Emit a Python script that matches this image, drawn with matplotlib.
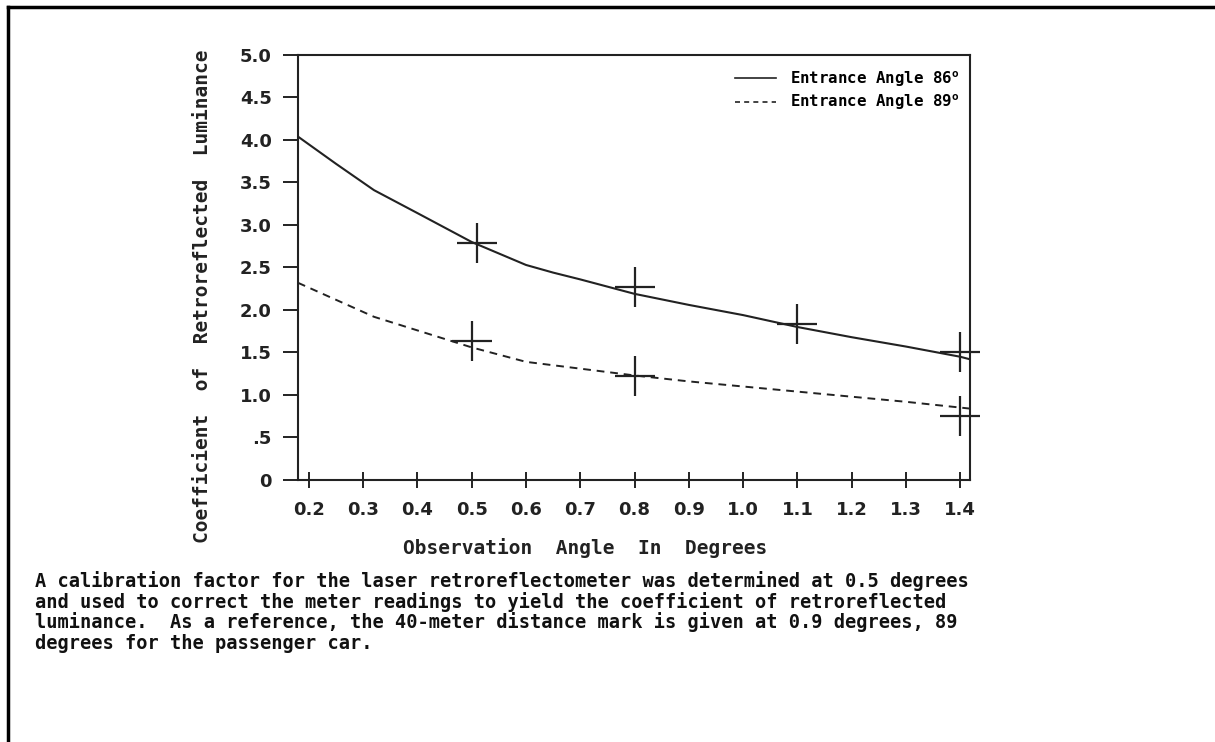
import matplotlib
matplotlib.use('Agg')
import matplotlib.pyplot as plt
from matplotlib.lines import Line2D

# curves
x86 = [0.18, 0.25, 0.32, 0.40, 0.50, 0.60, 0.65, 0.70, 0.80, 0.90, 1.00, 1.10, 1.20, 1.30, 1.40, 1.418]
y86 = [4.04, 3.72, 3.41, 3.14, 2.80, 2.53, 2.44, 2.36, 2.19, 2.06, 1.94, 1.80, 1.68, 1.57, 1.45, 1.42]
x89 = [0.18, 0.25, 0.32, 0.40, 0.50, 0.60, 0.70, 0.80, 0.90, 1.00, 1.10, 1.20, 1.30, 1.418]
y89 = [2.32, 2.12, 1.92, 1.76, 1.56, 1.39, 1.31, 1.23, 1.16, 1.10, 1.04, 0.98, 0.92, 0.84]

# measured points (plus signs)
px86 = [0.51, 0.80, 1.10, 1.40]
py86 = [2.79, 2.27, 1.83, 1.50]
px89 = [0.50, 0.80, 1.40]
py89 = [1.63, 1.22, 0.75]

xticks = [0.2, 0.3, 0.4, 0.5, 0.6, 0.7, 0.8, 0.9, 1.0, 1.1, 1.2, 1.3, 1.4]
xticklabels = ['0.2', '0.3', '0.4', '0.5', '0.6', '0.7', '0.8', '0.9', '1.0', '1.1', '1.2', '1.3', '1.4']
yticks = [0, 0.5, 1.0, 1.5, 2.0, 2.5, 3.0, 3.5, 4.0, 4.5, 5.0]
yticklabels = ['0', '.5', '1.0', '1.5', '2.0', '2.5', '3.0', '3.5', '4.0', '4.5', '5.0']

caption = ['A calibration factor for the laser retroreflectometer was determined at 0.5 degrees',
           'and used to correct the meter readings to yield the coefficient of retroreflected',
           'luminance.  As a reference, the 40-meter distance mark is given at 0.9 degrees, 89',
           'degrees for the passenger car.']

plt.rcParams['font.family'] = ['DejaVu Sans']
plt.rcParams['font.weight'] = 'bold'
mono = 'DejaVu Sans Mono'

W, H = 1215, 742
fig = plt.figure(figsize=(W / 100, H / 100), dpi=100)
ax = fig.add_axes([298 / W, 1 - 480 / H, (970 - 298) / W, (480 - 55) / H])

ink = '#222222'
ax.plot(x86, y86, color=ink, lw=1.5)
ax.plot(x89, y89, color=ink, lw=1.4, ls=(0, (4, 3)))
ax.plot(px86, py86, ls='none', marker='+', ms=29, mew=1.6, color=ink, clip_on=False)
ax.plot(px89, py89, ls='none', marker='+', ms=29, mew=1.6, color=ink, clip_on=False)

ax.set_xlim(0.18, 1.418)
ax.set_ylim(0, 5.0)
ax.set_xticks(xticks)
ax.set_xticklabels(xticklabels)
ax.set_yticks(yticks)
ax.set_yticklabels(yticklabels)
ax.tick_params(axis='y', direction='out', length=11, width=1.4, pad=8, labelsize=13, colors=ink)
ax.tick_params(axis='x', direction='inout', length=12, width=1.4, pad=9, labelsize=13, colors=ink)
for s in ax.spines.values():
    s.set_linewidth(1.5)
    s.set_color(ink)

handles = [Line2D([], [], color=ink, lw=1.2),
           Line2D([], [], color=ink, lw=1.2, ls=(0, (3, 2.5)))]
ax.legend(handles, ['Entrance Angle 86$^{\\mathregular{o}}$', 'Entrance Angle 89$^{\\mathregular{o}}$'],
          loc='upper right', bbox_to_anchor=(1.005, 1.0), frameon=False,
          handlelength=2.6, handletextpad=0.9, labelspacing=0.25,
          prop={'size': 11.3, 'weight': 'bold', 'family': mono})

fig.text(203 / W, 1 - 296 / H, 'Coefficient  of  Retroreflected  Luminance', rotation=90,
         ha='center', va='center', fontsize=14, color=ink, family=mono)
fig.text(585 / W, 1 - 548 / H, 'Observation  Angle  In  Degrees',
         ha='center', va='center', fontsize=14, color=ink, family=mono)

for i, line in enumerate(caption):
    fig.text(35 / W, 1 - (581 + 20.7 * i) / H, line, ha='left', va='center',
             fontsize=13.45, color='#111111', family=mono)

# page frame
fig.add_artist(Line2D([8 / W, 1.0], [1 - 7 / H, 1 - 7 / H], color='black', lw=2.5,
                      transform=fig.transFigure))
fig.add_artist(Line2D([8 / W, 8 / W], [1 - 7 / H, 0], color='black', lw=2.5,
                      transform=fig.transFigure))

fig.savefig('out.png', dpi=100)
